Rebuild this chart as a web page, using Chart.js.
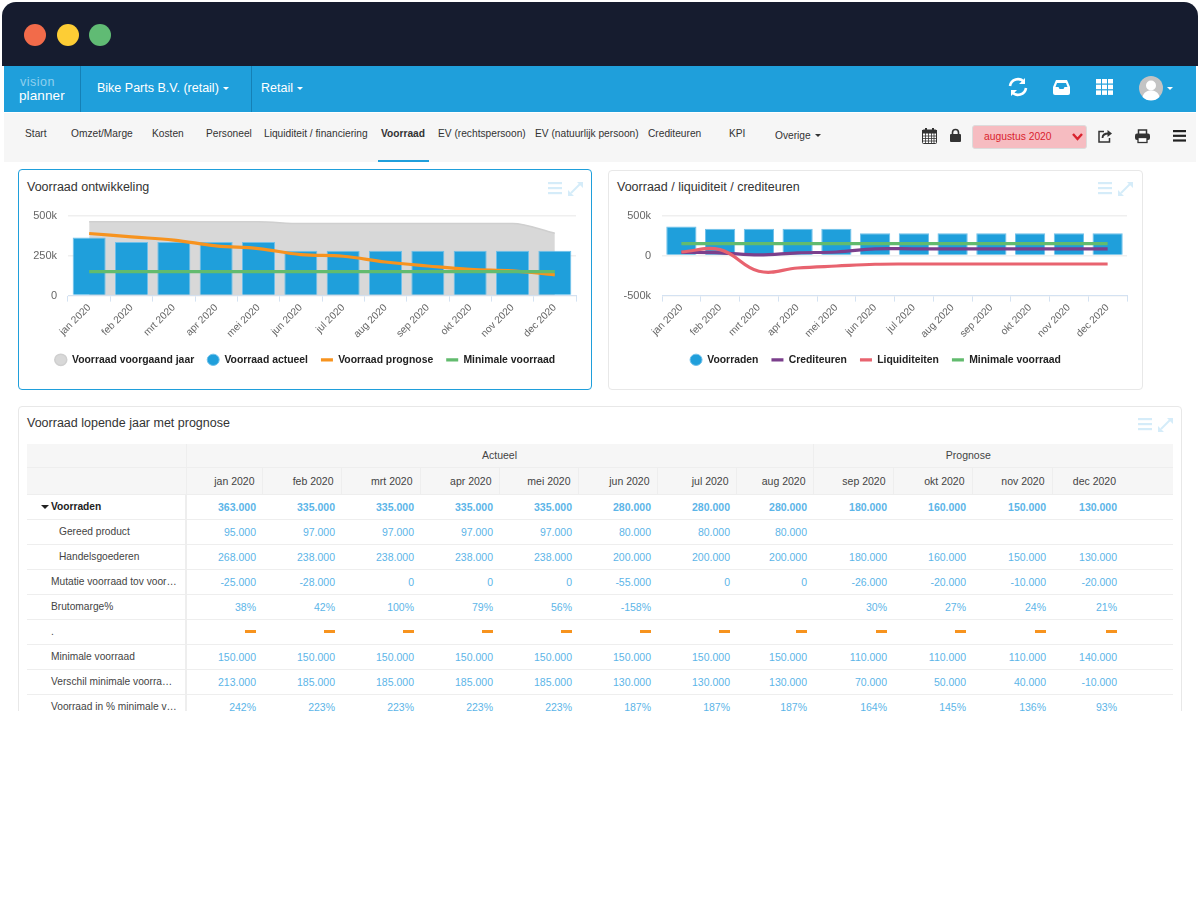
<!DOCTYPE html>
<html>
<head>
<title>Voorraad</title>
<script src="https://cdn.jsdelivr.net/npm/chart.js"></script>
<style>
    html, body { margin: 0; padding: 0; background: #fff; overflow: hidden; }
    body { width: 1200px; height: 900px; position: relative; font-family: "Liberation Sans", Arial, sans-serif; color: #333; }
    .abs { position: absolute; }
    #titlebar { left: 2px; top: 2px; width: 1196px; height: 64px; background: #161c2f; border-radius: 14px 14px 0 0; }
    .light { width: 22px; height: 22px; border-radius: 50%; top: 24px; }
    #nav { left: 4px; top: 66px; width: 1192px; height: 46px; background: #1f9fdb; }
    .divider { top: 66px; width: 1px; height: 46px; background: #1580b5; }
    .navtext { color: #fff; font-size: 12.5px; top: 81px; white-space: nowrap; }
    #subnav { left: 4px; top: 113px; width: 1192px; height: 49px; background: #f6f6f6; }
    .tab { font-size: 10.2px; top: 128px; color: #333; white-space: nowrap; }
    #underline { left: 378px; top: 160px; width: 51px; height: 2px; background: #1f9fdb; }
    #select { left: 972px; top: 125px; width: 113px; height: 22px; background: #f6bcc1; border: 1px solid #dcdcdc; border-radius: 3px; color: #d9232e; font-size: 10.3px; line-height: 22px; text-indent: 11px; }
    .panel { background: #fff; border: 1px solid #e8e8e8; border-radius: 4px; box-sizing: border-box; }
    .paneltitle { font-size: 12.5px; color: #333; white-space: nowrap; }
    .chartbox { position: absolute; }
    #tablewrap { left: 27px; top: 444px; width: 1146px; height: 267px; overflow: hidden; }
    table { border-collapse: collapse; table-layout: fixed; width: 1146px; font-size: 10.5px; }
    th { font-weight: normal; background: #f6f6f6; color: #444; text-align: right; padding: 0 7px 0 0; border-right: 1px solid #eee; border-bottom: 1px solid #eee; box-sizing: border-box; }
    th.group { text-align: center; padding: 0; height: 23px; }
    th.plain { border-right: none; }
    tr.months th { height: 27px; }
    td { height: 25px; padding: 0 6px 0 0; text-align: right; color: #5cb5e8; border-bottom: 1px solid #eee; box-sizing: border-box; white-space: nowrap; }
    td.name { text-align: left; color: #444; padding-left: 24px; border-right: 2px solid #eee; font-size: 10.2px; }
    td.sub { padding-left: 32px; }
    tr.top td { font-weight: bold; }
    tr.top td.name { color: #222; }
    .dash { display: inline-block; width: 11px; height: 3px; background: #f7931e; vertical-align: 3px; }
    .caret { display: inline-block; width: 0; height: 0; border-left: 4px solid transparent; border-right: 4px solid transparent; border-top: 4px solid #222; margin: 0 2px 1px -10px; }
    .navcaret { display: inline-block; width: 0; height: 0; border-left: 3px solid transparent; border-right: 3px solid transparent; border-top: 3px solid currentColor; margin-left: 4px; vertical-align: 2px; }
    svg { position: absolute; overflow: visible; }
</style>
</head>
<body>
<div class="abs" id="titlebar"></div>
<div class="abs light" style="left:24px;background:#f26b4a"></div>
<div class="abs light" style="left:57px;background:#fdcd35"></div>
<div class="abs light" style="left:89px;background:#60bb74"></div>

<div class="abs" id="nav"></div>
<div class="abs divider" style="left:80px"></div>
<div class="abs divider" style="left:251px"></div>
<div class="abs" style="left:20px;top:75px;line-height:14px;color:#8fd0ee;font-size:12.5px;letter-spacing:.5px">vision</div>
<div class="abs" style="left:19px;top:89px;line-height:14px;color:#fff;font-size:13.5px;letter-spacing:.1px">planner</div>
<div class="abs navtext" style="left:97px">Bike Parts B.V. (retail)<span class="navcaret"></span></div>
<div class="abs navtext" style="left:261px">Retail<span class="navcaret"></span></div>

<svg style="left:1008px;top:77px" width="20" height="20" viewBox="0 0 20 20" fill="none" stroke="#fff" stroke-width="2.6"><path d="M2 9a8 8 0 0 1 14-4M18 11a8 8 0 0 1-14 4"/><path d="M17 1v6h-6z M3 19v-6h6z" fill="#fff" stroke="none"/></svg>
<svg style="left:1053px;top:80px" width="17" height="15" viewBox="0 0 17 15"><path d="M3 0h11l3 7v6a2 2 0 0 1-2 2H2a2 2 0 0 1-2-2V7z" fill="#fff"/><path d="M4 3h9l1.500 4h-3l-1 2h-4l-1-2h-3z" fill="#1f9fdb"/></svg>
<svg style="left:1096px;top:79px" width="17" height="16" viewBox="0 0 17 16" fill="#fff"><rect width="5" height="4.500"/><rect x="6" width="5" height="4.500"/><rect x="12" width="5" height="4.500"/><rect y="5.700" width="5" height="4.500"/><rect x="6" y="5.700" width="5" height="4.500"/><rect x="12" y="5.700" width="5" height="4.500"/><rect y="11.400" width="5" height="4.500"/><rect x="6" y="11.400" width="5" height="4.500"/><rect x="12" y="11.400" width="5" height="4.500"/></svg>
<svg style="left:1139px;top:76px" width="24" height="24" viewBox="0 0 24 24"><circle cx="12" cy="12" r="12" fill="#c4c4c4"/><circle cx="12" cy="9.500" r="5" fill="#fff"/><path d="M3.500 21c1-5 5-6.500 8.500-6.500s7.500 1.500 8.500 6.500a12 12 0 0 1-17 0z" fill="#fff"/></svg>
<div class="abs" style="left:1167px;top:87px;width:0;height:0;border-left:3px solid transparent;border-right:3px solid transparent;border-top:3px solid #fff"></div>

<div class="abs" id="subnav"></div>
<div class="abs tab" style="left:25px">Start</div>
<div class="abs tab" style="left:71px">Omzet/Marge</div>
<div class="abs tab" style="left:152px">Kosten</div>
<div class="abs tab" style="left:206px">Personeel</div>
<div class="abs tab" style="left:264px">Liquiditeit / financiering</div>
<div class="abs tab" style="left:381px;font-weight:bold">Voorraad</div>
<div class="abs tab" style="left:438px">EV (rechtspersoon)</div>
<div class="abs tab" style="left:535px">EV (natuurlijk persoon)</div>
<div class="abs tab" style="left:648px">Crediteuren</div>
<div class="abs tab" style="left:729px">KPI</div>
<div class="abs tab" style="left:775px;top:130px">Overige<span class="navcaret"></span></div>
<div class="abs" id="underline"></div>

<svg style="left:922px;top:128px" width="15" height="16" viewBox="0 0 15 16"><rect x="0.500" y="2" width="14" height="13.500" rx="1" fill="#fff" stroke="#333"/><rect y="2" width="15" height="3.500" fill="#333"/><rect x="3" y="0" width="2" height="4" fill="#333"/><rect x="10" y="0" width="2" height="4" fill="#333"/><path d="M0 8h15M0 10.500h15M0 13h15M3.500 5v10M6.500 5v10M9.500 5v10M12 5v10" stroke="#333" stroke-width=".8"/></svg>
<svg style="left:950px;top:129px" width="11" height="13" viewBox="0 0 11 13"><rect y="5" width="11" height="8" rx="1" fill="#333"/><path d="M2.500 5V3.500a3 3 0 0 1 6 0V5" fill="none" stroke="#333" stroke-width="1.600"/></svg>
<div class="abs" id="select">augustus 2020</div>
<svg style="left:1072px;top:133px" width="11" height="8" viewBox="0 0 11 8" fill="none" stroke="#d9232e" stroke-width="2.400"><path d="M1 1l4.500 5L10 1"/></svg>
<svg style="left:1098px;top:129px" width="15" height="14" viewBox="0 0 15 14" fill="none" stroke="#333" stroke-width="1.500"><path d="M6 2.500H1v10.500h10.500V9"/><path d="M4.500 9c0-3 2-4.500 6-4.500" stroke-width="1.800"/><path d="M9.500 1L14 4.500 9.500 8z" fill="#333" stroke="none"/></svg>
<svg style="left:1135px;top:129px" width="15" height="14" viewBox="0 0 15 14"><path d="M3.500 5V1h8v4" fill="none" stroke="#333" stroke-width="1.500"/><rect y="4.500" width="15" height="6.500" rx="2" fill="#333"/><rect x="3" y="8.500" width="9" height="5" fill="#fff" stroke="#333" stroke-width="1.300"/></svg>
<svg style="left:1173px;top:130px" width="13" height="12" viewBox="0 0 13 12" fill="#222"><rect width="13" height="2.200"/><rect y="4.700" width="13" height="2.200"/><rect y="9.400" width="13" height="2.200"/></svg>

<div class="abs panel" style="left:18px;top:169px;width:574px;height:221px;border:1.500px solid #1f9fdb"></div>
<div class="abs paneltitle" style="left:27px;top:180px">Voorraad ontwikkeling</div>
<div class="abs panel" style="left:608px;top:170px;width:535px;height:220px"></div>
<div class="abs paneltitle" style="left:617px;top:180px">Voorraad / liquiditeit / crediteuren</div>
<div class="abs panel" style="left:18px;top:406px;width:1164px;height:330px"></div>
<div class="abs paneltitle" style="left:27px;top:416px">Voorraad lopende jaar met prognose</div>
<div class="abs" style="left:0;top:711px;width:1200px;height:189px;background:#fff"></div>

<svg style="left:548px;top:182px" width="35" height="14" viewBox="0 0 35 14"><g fill="#d5ecf9"><rect width="14" height="2.200"/><rect y="5" width="14" height="2.200"/><rect y="10" width="14" height="2.200"/><path d="M20 14v-6l6 6zM35 0v6l-6-6z"/></g><path d="M23 11l9-9" stroke="#d5ecf9" stroke-width="2"/></svg>
<svg style="left:1098px;top:182px" width="35" height="14" viewBox="0 0 35 14"><g fill="#d5ecf9"><rect width="14" height="2.200"/><rect y="5" width="14" height="2.200"/><rect y="10" width="14" height="2.200"/><path d="M20 14v-6l6 6zM35 0v6l-6-6z"/></g><path d="M23 11l9-9" stroke="#d5ecf9" stroke-width="2"/></svg>
<svg style="left:1138px;top:418px" width="35" height="14" viewBox="0 0 35 14"><g fill="#d5ecf9"><rect width="14" height="2.200"/><rect y="5" width="14" height="2.200"/><rect y="10" width="14" height="2.200"/><path d="M20 14v-6l6 6zM35 0v6l-6-6z"/></g><path d="M23 11l9-9" stroke="#d5ecf9" stroke-width="2"/></svg>

<div class="chartbox" style="left:19px;top:198px;width:572px;height:177px"><canvas id="chart1"></canvas></div>
<div class="chartbox" style="left:609px;top:198px;width:533px;height:177px"><canvas id="chart2"></canvas></div>

<div class="abs" id="tablewrap"><table id="stock"></table></div>

<script>
var months = ['jan 2020', 'feb 2020', 'mrt 2020', 'apr 2020', 'mei 2020', 'jun 2020', 'jul 2020', 'aug 2020', 'sep 2020', 'okt 2020', 'nov 2020', 'dec 2020'];

// left chart
var vorigJaar = [462000, 462000, 462000, 462000, 462000, 450000, 450000, 450000, 450000, 450000, 450000, 390000];
var actueel = [363000, 335000, 335000, 335000, 335000, 280000, 280000, 280000, 280000, 280000, 280000, 280000];
var prognose = [388000, 367000, 347000, 311000, 294000, 256000, 246000, 210000, 185000, 164000, 155000, 130000];
var minimaal = [150000, 150000, 150000, 150000, 150000, 150000, 150000, 150000, 150000, 150000, 150000, 150000];

// right chart
var voorraden = [363000, 335000, 335000, 335000, 335000, 280000, 280000, 280000, 280000, 280000, 280000, 280000];
var crediteuren = [40000, 35000, 10000, 35000, 45000, 85000, 85000, 85000, 85000, 85000, 85000, 85000];
var liquiditeiten = [45000, 75000, -195000, -155000, -130000, -108000, -105000, -105000, -105000, -105000, -105000, -105000];

// table
var groupActueel = 'Actueel';
var groupPrognose = 'Prognose';
var rowNames = ['Voorraden', 'Gereed product', 'Handelsgoederen', 'Mutatie voorraad tov voor…', 'Brutomarge%', '.', 'Minimale voorraad', 'Verschil minimale voorra…', 'Voorraad in % minimale v…'];
var rowVoorraden = ['363.000', '335.000', '335.000', '335.000', '335.000', '280.000', '280.000', '280.000', '180.000', '160.000', '150.000', '130.000'];
var rowGereed = ['95.000', '97.000', '97.000', '97.000', '97.000', '80.000', '80.000', '80.000', '', '', '', ''];
var rowHandel = ['268.000', '238.000', '238.000', '238.000', '238.000', '200.000', '200.000', '200.000', '180.000', '160.000', '150.000', '130.000'];
var rowMutatie = ['-25.000', '-28.000', '0', '0', '0', '-55.000', '0', '0', '-26.000', '-20.000', '-10.000', '-20.000'];
var rowMarge = ['38%', '42%', '100%', '79%', '56%', '-158%', '', '', '30%', '27%', '24%', '21%'];
var rowDash = ['-', '-', '-', '-', '-', '-', '-', '-', '-', '-', '-', '-'];
var rowMinimaal = ['150.000', '150.000', '150.000', '150.000', '150.000', '150.000', '150.000', '150.000', '110.000', '110.000', '110.000', '140.000'];
var rowVerschil = ['213.000', '185.000', '185.000', '185.000', '185.000', '130.000', '130.000', '130.000', '70.000', '50.000', '40.000', '-10.000'];
var rowProcent = ['242%', '223%', '223%', '223%', '223%', '187%', '187%', '187%', '164%', '145%', '136%', '93%'];
var rows = [rowVoorraden, rowGereed, rowHandel, rowMutatie, rowMarge, rowDash, rowMinimaal, rowVerschil, rowProcent];
var colWidths = [159, 76, 79, 79, 79, 79, 79, 79, 77, 80, 79, 80, 71, 50];

function buildTable() {
    var html = '<colgroup>';
    colWidths.forEach(function (w) { html += '<col style="width:' + w + 'px">'; });
    html += '</colgroup><tr><th class="group"></th><th class="group" colspan="8">' + groupActueel + '</th><th class="group plain" colspan="4">' + groupPrognose + '</th><th class="group plain"></th></tr>';
    html += '<tr class="months"><th></th>';
    months.forEach(function (m, i) { html += '<th' + (i === 11 ? ' class="plain"' : '') + '>' + m + '</th>'; });
    html += '<th class="plain"></th></tr>';
    rows.forEach(function (row, r) {
        var cls = r === 0 ? ' class="top"' : '';
        var nameCls = (r === 1 || r === 2) ? 'name sub' : 'name';
        var name = r === 0 ? '<span class="caret"></span>' + rowNames[r] : rowNames[r];
        html += '<tr' + cls + '><td class="' + nameCls + '">' + name + '</td>';
        row.forEach(function (v) {
            html += '<td>' + (v === '-' ? '<span class="dash"></span>' : v) + '</td>';
        });
        html += '<td></td></tr>';
    });
    document.getElementById('stock').innerHTML = html;
}
buildTable();

function formatK(value) {
    return value === 0 ? '0' : (value / 1000) + 'k';
}

function lineSet(label, data, color, order) {
    return { type: 'line', label: label, data: data, borderColor: color, backgroundColor: color, borderWidth: 3.2, pointRadius: 0, pointStyle: 'line', tension: 0.4, fill: false, order: order };
}

function barSet(label, data) {
    return { type: 'bar', label: label, data: data, backgroundColor: '#1f9fdb', borderColor: '#6fc0ea', borderWidth: 1, barPercentage: 0.78, categoryPercentage: 1, pointStyle: 'circle', order: 3 };
}

function makeOptions(yMin, yMax, step, yWidth) {
    return {
        responsive: true,
        maintainAspectRatio: false,
        animation: false,
        layout: { autoPadding: false, padding: 0 },
        plugins: {
            tooltip: { enabled: false },
            legend: {
                position: 'bottom',
                labels: {
                    usePointStyle: true,
                    pointStyleWidth: 12,
                    boxWidth: 8,
                    boxHeight: 8,
                    padding: 13,
                    color: '#222',
                    font: { family: 'Liberation Sans', size: 10.4, weight: 'bold' },
                    sort: function (a, b) { return a.datasetIndex - b.datasetIndex; }
                }
            }
        },
        scales: {
            x: {
                offset: true,
                grid: { display: true, offset: true, drawOnChartArea: false, tickLength: 6, color: '#d4e2f2' },
                border: { color: '#d4e2f2', width: 1 },
                ticks: { autoSkip: false, minRotation: 45, maxRotation: 45, color: '#666', padding: 0, font: { family: 'Liberation Sans', size: 10.2 } },
                afterFit: function (scale) { scale.height = 46; }
            },
            y: {
                min: yMin,
                max: yMax,
                afterFit: function (scale) { scale.width = yWidth; },
                grid: { color: '#efefef', lineWidth: 1.5, drawTicks: false },
                border: { display: false },
                ticks: { stepSize: step, color: '#666', padding: 11, font: { family: 'Liberation Sans', size: 11 }, callback: formatK }
            },
            // empty axis, only keeps the margin right of the plot
            yRight: {
                position: 'right',
                min: yMin,
                max: yMax,
                afterFit: function (scale) { scale.width = 15; },
                grid: { display: false },
                border: { display: false },
                ticks: { display: false }
            }
        }
    };
}

var area = lineSet('Voorraad voorgaand jaar', vorigJaar, '#cfcfcf', 4);
area.fill = 'origin';
area.backgroundColor = '#d8d8d8';
area.borderWidth = 1.5;
area.pointStyle = 'circle';
area.cubicInterpolationMode = 'monotone';

new Chart(document.getElementById('chart1'), {
    data: {
        labels: months,
        datasets: [
            area,
            barSet('Voorraad actueel', actueel),
            lineSet('Voorraad prognose', prognose, '#f7931e', 1),
            lineSet('Minimale voorraad', minimaal, '#62bb6e', 0)
        ]
    },
    options: makeOptions(0, 500000, 250000, 49)
});

new Chart(document.getElementById('chart2'), {
    data: {
        labels: months,
        datasets: [
            barSet('Voorraden', voorraden),
            lineSet('Crediteuren', crediteuren, '#7b3f8c', 2),
            lineSet('Liquiditeiten', liquiditeiten, '#e8636f', 1),
            lineSet('Minimale voorraad', minimaal, '#62bb6e', 0)
        ]
    },
    options: makeOptions(-500000, 500000, 500000, 53)
});
</script>
</body>
</html>
